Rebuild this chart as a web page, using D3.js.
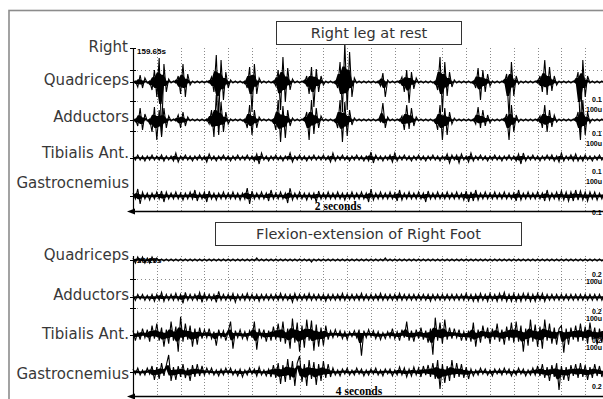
<!DOCTYPE html>
<html><head><meta charset="utf-8">
<script src="https://cdn.jsdelivr.net/npm/d3@7"></script>
<style>html,body{margin:0;padding:0;background:#fff;overflow:hidden}</style>
</head><body><svg id="c" width="603" height="399"></svg>
<script>
// ---------------- DATA ----------------
const channels = ["Quadriceps", "Adductors", "Tibialis Ant.", "Gastrocnemius"];
const panelTitles = ["Right leg at rest", "Flexion-extension of Right Foot"];
const panelDurations = [2, 4];              // seconds shown across each panel
const timeLabels = ["2 seconds", "4 seconds"];
const startLabels = ["159.65s", "26.15s"];
const gainLabels = ["0.1", "0.2"];
const unitLabel = "100u";
const sideLabel = "Right";

// EMG samples (µV-like units, 200 samples per trace), panel 1: right leg at rest
const restQuadriceps = [
0,1,-5,7,-6,4,-1,1,-8,12, -15,24,-55,18,-10,3,-1,1,-1,6,
-12,18,-15,8,-3,1,-1,1,-1,1, -1,1,-1,5,-10,27,-35,22,-18,10,
-6,2,-1,1,-1,1,-1,1,-6,15, -30,18,-12,4,-1,1,-1,1,-1,1,
-4,12,-28,25,-20,14,-8,3,-1,1, -1,1,-1,6,-12,15,-25,13,-10,6,
-3,1,-1,1,-1,1,-6,20,-30,39, -28,30,-15,4,-1,1,-1,1,-1,1,
-1,1,-1,1,-4,9,-15,2,-1,1, -1,1,-1,5,-10,12,-21,10,-7,4,
-1,1,-1,1,-1,1,-1,1,-8,25, -30,20,-14,10,-5,2,-1,1,-1,1,
-1,1,-1,1,-6,14,-18,12,-10,8, -4,1,-1,1,-1,1,-1,8,-35,20,
-14,6,-2,1,-1,1,-1,1,-1,1, -1,6,-10,22,-13,15,-9,6,-3,1,
-1,1,-1,1,-1,1,-1,10,-50,22, -15,6,-1,1,-1,1,-1,1,-1,1];
const restAdductors = [
0,1,-6,12,-10,6,-1,1,-12,13, -20,10,-16,12,-8,4,-1,1,-1,5,
-8,8,-6,3,-1,1,-1,1,-1,1, -1,1,-4,10,-17,25,-15,18,-12,8,
-4,1,-1,1,-1,1,-1,1,-8,15, -15,10,-8,3,-1,1,-1,1,-1,1,
-10,20,-22,14,-18,10,-6,2,-1,1, -1,1,-1,8,-20,20,-14,12,-8,4,
-1,1,-1,1,-1,1,-8,20,-22,18, -16,10,-5,2,-1,1,-1,1,-1,1,
-1,1,-1,1,-2,17,-8,3,-1,1, -1,1,-1,4,-10,15,-9,12,-6,3,
-1,1,-1,1,-1,1,-1,1,-10,15, -20,12,-15,8,-4,2,-1,1,-1,1,
-1,1,-1,1,-4,13,-8,10,-6,5, -3,1,-1,1,-1,1,-1,6,-20,15,
-12,5,-2,1,-1,1,-1,1,-1,1, -1,4,-8,15,-12,10,-7,5,-2,1,
-1,1,-1,1,-1,1,-1,8,-20,20, -15,8,-3,1,-1,1,-1,1,-1,1];
const restTibialis = [
2,-2,3,-2,2,-3,2,-2,3,-2, 2,-2,3,-3,2,-2,2,-3,5,-4,
2,-2,3,-2,2,-3,2,-2,3,-2, 2,-4,4,-2,2,-3,2,-2,3,-2,
2,-3,2,-2,3,-2,2,-2,3,-2, 2,-3,4,-6,5,-2,2,-3,2,-2,
3,-2,2,-3,2,-2,5,-4,2,-2, 3,-2,2,-3,2,-2,3,-2,2,-2,
3,-2,2,-4,5,-3,2,-2,3,-2, 2,-3,2,-2,3,-2,2,-3,2,-3,
6,-5,3,-2,2,-3,2,-2,3,-4, 5,-3,2,-2,3,-2,2,-3,2,-2,
3,-2,2,-3,2,-2,3,-2,2,-3, 2,-2,4,-5,3,-2,3,-5,4,-2,
2,-4,5,-3,2,-2,3,-2,2,-3, 2,-2,3,-2,2,-3,2,-2,3,-2,
2,-3,4,-6,5,-3,2,-2,3,-2, 2,-3,2,-2,3,-2,3,-3,2,-4,
5,-3,2,-2,3,-3,4,-3,2,-3, 3,-2,2,-3,2,-2,3,-2,2,-2];
const restGastrocnemius = [
3,-3,7,-8,4,-3,3,-4,3,-3, 4,-3,5,-6,4,-3,3,-3,4,-3,
3,-4,3,-3,4,-3,6,-5,3,-3, 4,-6,5,-3,3,-4,3,-3,4,-3,
3,-3,4,-3,3,-4,3,-3,8,-8, 5,-3,3,-3,4,-3,3,-5,6,-3,
3,-3,4,-3,3,-7,8,-4,3,-3, 4,-3,3,-4,3,-3,3,-6,5,-3,
3,-3,4,-3,3,-3,4,-3,3,-4, 3,-3,4,-3,3,-3,4,-3,3,-6,
7,-4,3,-3,4,-3,3,-3,4,-3, 3,-5,6,-4,3,-3,4,-3,3,-3,
4,-3,3,-6,5,-3,3,-3,4,-3, 3,-3,4,-3,3,-3,4,-3,3,-4,
5,-6,4,-5,6,-4,3,-3,4,-3, 3,-3,4,-3,3,-3,4,-3,3,-3,
3,-5,6,-4,3,-3,4,-3,3,-3, 4,-3,3,-5,6,-4,3,-3,4,-4,
5,-4,4,-5,4,-5,6,-4,5,-4, 4,-5,4,-3,4,-4,3,-3,4,-3];

// panel 2: flexion-extension of right foot
const flexQuadriceps = [
2,-3,3,-2,3,-3,2,-3,3,-2, 2,-1,1,-1,1,-1,1,-1,1,-1,
1,-1,1,-1,1,-1,1,-1,1,-1, 1,-1,1,-1,1,-1,1,-1,1,-1,
1,-1,1,-1,1,-1,1,-1,1,-1, 1,-1,2,-1,1,-1,1,-1,1,-1,
1,-1,1,-1,1,-1,1,-1,1,-1, 1,-1,1,-1,1,-2,1,-1,1,-1,
1,-1,1,-1,1,-1,1,-1,1,-1, 1,-1,1,-1,1,-1,1,-1,1,-1,
1,-1,1,-1,1,-1,2,-1,1,-1, 1,-1,1,-1,1,-1,1,-1,1,-1,
1,-1,1,-1,1,-1,1,-1,1,-1, 1,-1,1,-1,1,-1,1,-1,1,-1,
1,-1,1,-1,1,-1,1,-1,1,-1, 1,-1,1,-1,1,-1,1,-1,1,-1,
1,-1,1,-1,1,-1,1,-1,1,-1, 1,-1,1,-1,1,-1,1,-1,1,-1,
1,-1,1,-1,1,-1,1,-1,1,-1, 1,-1,1,-1,1,-1,1,-1,1,-1];
const flexAdductors = [
2,-3,3,-2,3,-3,2,-3,3,-4, 3,-3,5,-4,3,-3,3,-3,4,-3,
3,-6,5,-3,3,-3,3,-3,5,-5, 4,-3,3,-3,3,-5,6,-3,3,-3,
3,-3,4,-5,3,-3,3,-3,4,-3, 3,-3,3,-4,3,-3,3,-3,3,-3,
3,-3,4,-3,3,-3,3,-5,4,-3, 3,-3,3,-3,4,-3,3,-3,3,-3,
3,-4,3,-3,3,-3,3,-3,4,-3, 3,-3,3,-3,3,-3,4,-3,3,-3,
3,-3,3,-3,4,-3,3,-3,3,-3, 3,-3,4,-3,3,-3,3,-3,3,-3,
3,-3,3,-3,3,-4,3,-3,3,-3, 3,-3,3,-3,3,-3,3,-3,3,-3,
4,-3,3,-4,3,-4,4,-3,3,-4, 4,-3,3,-4,4,-3,5,-4,3,-4,
4,-4,3,-4,4,-3,4,-4,3,-4, 4,-3,4,-4,3,-3,3,-3,3,-3,
3,-3,3,-3,3,-3,3,-3,3,-3, 3,-3,3,-3,3,-3,3,-3,3,-3];
const flexTibialis = [
4,-6,3,-5,6,-3,5,-7,9,-4, 11,-6,7,-12,5,-9,13,-6,8,-17,
18,-7,11,-5,9,-12,6,-10,7,-4, 5,-3,6,-4,3,-11,5,-3,4,-6,
3,13,-14,4,-3,5,-4,3,-5,4, -3,13,-15,6,-3,5,-7,4,-6,8,
-5,11,-7,13,-9,6,-14,16,-8,12, -17,9,-13,15,-6,14,-16,10,-12,7,
-11,9,-5,4,-3,5,-2,4,-4,3, -5,3,-2,4,-3,5,-21,4,-3,5,
-2,4,-4,3,-5,2,-4,3,-3,6, -4,3,-6,5,-3,13,-6,4,-7,5,
-4,7,-5,4,-8,6,-20,17,-6,12, -9,15,-5,7,-4,6,-3,5,-6,3,
-6,4,-7,12,-12,5,-8,9,-4,7, -9,6,-5,11,-7,5,-10,8,-6,12,
-8,13,-7,9,-17,6,-11,15,-7,10, -12,8,-14,15,-6,11,-9,7,-10,6,
9,-18,6,-10,7,-5,9,-7,11,-6, 8,-9,12,-5,7,-10,6,-8,9,-5];
const flexGastrocnemius = [
3,-2,4,-3,2,-3,4,-2,6,-8, 5,-7,9,-4,7,17,-9,5,-8,6,
-5,8,-6,4,-9,7,-5,8,-4,6, -3,4,-2,4,-3,2,-4,3,-3,4,
-2,4,-3,2,-4,3,-5,2,-3,4, -2,3,-4,5,-3,2,-4,3,-5,7,
-6,9,-12,7,-10,13,-8,11,-14,9, 16,-10,8,-14,12,-7,10,-13,8,-9,
11,-6,8,-5,4,-3,2,-4,3,-2, 4,-3,2,-3,4,-2,3,-4,2,-3,
3,-2,4,-3,2,-4,3,-2,3,-4, 2,-3,5,-3,4,-5,3,-4,5,-3,
4,-5,6,-3,7,-5,9,-7,12,-17, 8,-11,6,-9,12,-6,9,-5,8,-6,
5,-7,3,-4,2,-3,4,-2,3,-3, 2,-4,3,-2,3,-3,4,-2,3,-4,
2,-3,4,-2,3,-4,2,-3,4,-3, 6,-4,8,-6,5,-9,7,-5,9,-18,
6,-8,5,-9,7,-4,8,-6,9,-5, 7,-8,5,-6,8,-4,6,-5,3,-4];

const panelSeries = [
  [restQuadriceps, restAdductors, restTibialis, restGastrocnemius],
  [flexQuadriceps, flexAdductors, flexTibialis, flexGastrocnemius]
];

// ---------------- LAYOUT ----------------
const W = 603, H = 399;
const plotLeft = 133, plotRight = 609;
const layout = [
  { top: 48, axisY: 211, base: [82, 196], labelY: [80, 117, 153, 183],
    box: [276.5, 21.5, 185, 23], gainY: [100, 134, 172, 213], unitGap: 10.5,
    timeX: 338, showSide: true, startY: 52 },
  { top: 256, axisY: 396, base: [260, 372], labelY: [255, 295, 334, 374],
    box: [215.5, 222.5, 306, 23], gainY: [275, 312, 341, 387], unitGap: 7.5,
    timeX: 359, showSide: false, startY: 261 }
];
const labelFont = "'DejaVu Sans', sans-serif";
const smallFont = "'Liberation Sans', Arial, sans-serif";

const svg = d3.select("#c");
svg.append("rect").attr("width", W).attr("height", H).attr("fill", "#fff");
svg.append("rect").attr("x", 9).attr("y", 10.5).attr("width", 620).attr("height", 420)
  .attr("fill", "none").attr("stroke", "#8c8c8c").attr("stroke-width", 1.6);

const amp = d3.scaleLinear().domain([-50, 50]).range([50, -50]);
const coreAmp = d3.scaleLinear().domain([-50, 50]).range([20, -20]);

layout.forEach((L, p) => {
  const g = svg.append("g");
  const dur = panelDurations[p];
  const x = d3.scaleLinear().domain([0, dur]).range([plotLeft, plotRight]);
  const yb = d3.scalePoint().domain(channels).range(L.base);

  // grid: vertical dotted lines every 1/20 of the panel
  const gridT = d3.range(1, 20).map(k => k * dur / 20);
  g.selectAll(".vg").data(gridT).join("line")
    .attr("x1", d => Math.round(x(d)) + 0.5).attr("x2", d => Math.round(x(d)) + 0.5)
    .attr("y1", L.top).attr("y2", L.axisY)
    .attr("stroke", "#8a8a8a").attr("stroke-width", 1).attr("stroke-dasharray", "1,2");
  // horizontal dotted lines
  const yQ = yb(channels[0]), yA = yb(channels[1]);
  const hg = [yQ - 12, (yQ + yA) / 2, yA + 11].filter(v => v > L.top);
  g.selectAll(".hg").data(hg).join("line")
    .attr("x1", plotLeft).attr("x2", W)
    .attr("y1", d => Math.round(d) + 0.5).attr("y2", d => Math.round(d) + 0.5)
    .attr("stroke", "#8a8a8a").attr("stroke-width", 1).attr("stroke-dasharray", "1,3");

  // left axis
  g.append("line").attr("x1", plotLeft + 0.5).attr("x2", plotLeft + 0.5)
    .attr("y1", L.top).attr("y2", L.axisY).attr("stroke", "#000").attr("stroke-width", 1.2);
  const tickYs = channels.map(c => yb(c)).concat(hg);
  if (L.showSide) tickYs.push(L.top);
  g.selectAll(".tk").data(tickYs).join("line")
    .attr("x1", plotLeft - 3).attr("x2", plotLeft + 3)
    .attr("y1", d => Math.round(d) + 0.5).attr("y2", d => Math.round(d) + 0.5)
    .attr("stroke", "#000").attr("stroke-width", 1);

  // bottom axis with arrow
  g.append("line").attr("x1", plotLeft - 2).attr("x2", W)
    .attr("y1", L.axisY + 0.5).attr("y2", L.axisY + 0.5).attr("stroke", "#000").attr("stroke-width", 1.3);
  g.append("path").attr("d", `M${plotLeft - 6},${L.axisY + 0.5}L${plotLeft + 2},${L.axisY - 2.5}L${plotLeft + 2},${L.axisY + 3.5}Z`)
    .attr("fill", "#000");

  // traces: a filled core between neighbouring extremes plus the raw zig-zag
  panelSeries[p].forEach((series, ci) => {
    const base = yb(channels[ci]);
    const dt = dur / series.length;
    const nb = i => series[Math.min(i + 1, series.length - 1)];
    const core = d3.area()
      .x((d, i) => x(i * dt))
      .y0((d, i) => base + coreAmp(Math.min(d, nb(i))))
      .y1((d, i) => base + coreAmp(Math.max(d, nb(i))));
    g.append("path").datum(series).attr("d", core).attr("fill", "#000");
    const line = d3.line().x((d, i) => x(i * dt)).y(d => base + amp(d));
    g.append("path").datum(series).attr("d", line)
      .attr("fill", "none").attr("stroke", "#000").attr("stroke-width", 1.1)
      .attr("stroke-linejoin", "miter");
  });

  // channel labels
  g.selectAll(".cl").data(channels).join("text")
    .attr("x", 129).attr("y", (d, i) => L.labelY[i])
    .attr("text-anchor", "end").attr("dominant-baseline", "middle")
    .attr("font-family", labelFont).attr("font-size", 15).attr("fill", "#383838")
    .text(d => d);
  if (L.showSide) {
    g.append("text").attr("x", 128).attr("y", L.top - 1)
      .attr("text-anchor", "end").attr("dominant-baseline", "middle")
      .attr("font-family", labelFont).attr("font-size", 15).attr("fill", "#383838")
      .text(sideLabel);
  }

  // start time label
  g.append("text").attr("x", plotLeft + 4).attr("y", L.startY)
    .attr("dominant-baseline", "middle")
    .attr("font-family", smallFont).attr("font-weight", "bold")
    .attr("font-size", 8).attr("fill", "#000").text(startLabels[p]);

  // right side gain labels
  L.gainY.forEach((gy, k) => {
    g.append("text").attr("x", 592).attr("y", gy)
      .attr("dominant-baseline", "middle").attr("font-family", smallFont)
      .attr("font-weight", "bold").attr("font-size", 7).attr("fill", "#000").text(gainLabels[p]);
    if (k < L.gainY.length - 1) {
      g.append("text").attr("x", 586).attr("y", gy + L.unitGap)
        .attr("dominant-baseline", "middle").attr("font-family", smallFont)
        .attr("font-weight", "bold").attr("font-size", 7).attr("fill", "#000").text(unitLabel);
    }
  });

  // time scale label
  g.append("text").attr("x", L.timeX).attr("y", L.axisY - 1.5)
    .attr("text-anchor", "middle").attr("font-family", "'Liberation Serif', 'Times New Roman', serif")
    .attr("font-weight", "bold").attr("font-size", 11.5).attr("fill", "#000").text(timeLabels[p]);

  // title box
  const [bx, by, bw, bh] = L.box;
  g.append("rect").attr("x", bx).attr("y", by).attr("width", bw).attr("height", bh)
    .attr("fill", "#fff").attr("stroke", "#333").attr("stroke-width", 1);
  g.append("text").attr("x", bx + bw / 2).attr("y", by + bh / 2 + 0.5)
    .attr("text-anchor", "middle").attr("dominant-baseline", "middle")
    .attr("font-family", labelFont).attr("font-size", 14.5).attr("fill", "#333")
    .text(panelTitles[p]);
});
</script></body></html>
